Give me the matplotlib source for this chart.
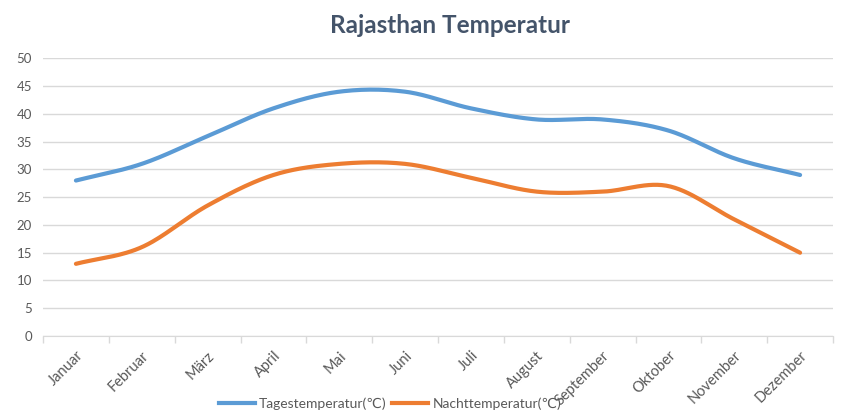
import numpy as np
import matplotlib.pyplot as plt
from matplotlib.lines import Line2D

plt.rcParams['font.family'] = ['Lato', 'DejaVu Sans']

months = ['Januar', 'Februar', 'März', 'April', 'Mai', 'Juni', 'Juli',
          'August', 'September', 'Oktober', 'November', 'Dezember']
day_temp = [28, 31, 36, 41, 44, 44, 41, 39, 39, 37, 32, 29]
night_temp = [13, 16, 23.5, 29, 31, 31, 28.5, 26, 26, 27, 21, 15]

series_names = ['Tagestemperatur(℃)', 'Nachttemperatur(℃)']
colors = ['#5B9BD5', '#ED7D31']
text_col = '#595959'
grid_col = '#D9D9D9'


def smooth(y, n=30):
    # Catmull-Rom style smoothing, like Excel's "smoothed line"
    y = np.asarray(y, dtype=float)
    p = np.concatenate([[2 * y[0] - y[1]], y, [2 * y[-1] - y[-2]]])
    xs, ys = [], []
    t = np.linspace(0, 1, n, endpoint=False)
    for i in range(1, len(p) - 2):
        p0, p1, p2, p3 = p[i - 1], p[i], p[i + 1], p[i + 2]
        m1 = (p2 - p0) / 2
        m2 = (p3 - p1) / 2
        h00 = 2 * t**3 - 3 * t**2 + 1
        h10 = t**3 - 2 * t**2 + t
        h01 = -2 * t**3 + 3 * t**2
        h11 = t**3 - t**2
        xs.append(i - 1 + t)
        ys.append(h00 * p1 + h10 * m1 + h01 * p2 + h11 * m2)
    xs.append([len(y) - 1])
    ys.append([y[-1]])
    return np.concatenate(xs), np.concatenate(ys)


fig = plt.figure(figsize=(8.5, 4.2), dpi=100)
ax = fig.add_axes([0.0506, 0.2, 0.9294, 0.661])

for vals, c in zip([day_temp, night_temp], colors):
    sx, sy = smooth(vals)
    ax.plot(sx, sy, color=c, lw=3, solid_capstyle='round', zorder=3)

ax.set_xlim(-0.5, len(months) - 0.5)
ax.set_ylim(0, 50)
ax.set_yticks(range(0, 51, 5))
ax.yaxis.grid(True, color=grid_col, lw=1)
ax.set_axisbelow(True)

ax.set_xticks(range(len(months)))
ax.set_xticklabels(months, rotation=45, ha='right', rotation_mode='anchor')
ax.set_xticks(np.arange(-0.5, len(months), 1), minor=True)
ax.tick_params(axis='x', which='major', length=0, pad=9, labelsize=10.5, labelcolor=text_col)
ax.tick_params(axis='x', which='minor', length=5, color=grid_col, width=1)
ax.tick_params(axis='y', length=0, pad=8, labelsize=9.5, labelcolor=text_col)

for s in ['top', 'right', 'left']:
    ax.spines[s].set_visible(False)
ax.spines['bottom'].set_color(grid_col)

fig.text(0.53, 0.94, 'Rajasthan Temperatur', ha='center', va='center',
         fontsize=17.5, fontweight='bold', color='#44546A')

handles = [Line2D([0], [0], color=c, lw=3) for c in colors]
fig.legend(handles, series_names, loc='center', bbox_to_anchor=(0.459, 0.038),
           ncol=2, frameon=False, fontsize=10, handlelength=2.6,
           handletextpad=0.3, columnspacing=0.4, labelcolor=text_col)

fig.savefig('out.png', dpi=100)
